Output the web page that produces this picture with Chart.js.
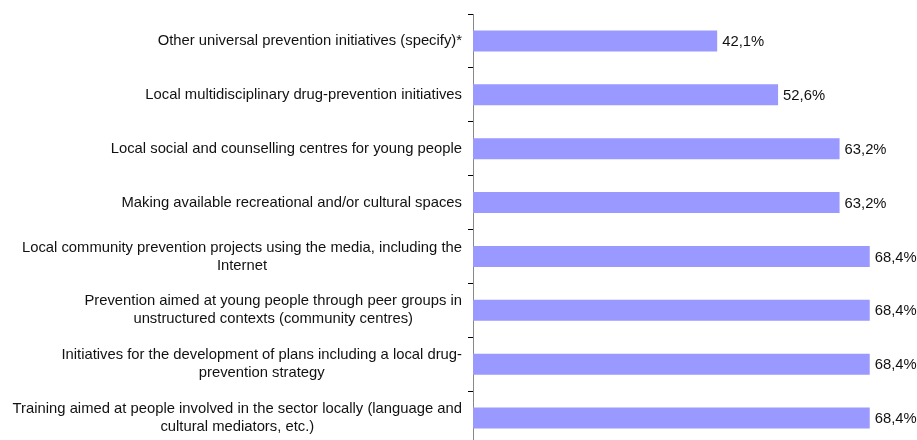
<!DOCTYPE html>
<html>
<head>
<meta charset="utf-8">
<script src="https://cdn.jsdelivr.net/npm/chart.js@4.4.1/dist/chart.umd.min.js"></script>
<style>
  html, body { margin: 0; padding: 0; background: #fff; width: 917px; height: 440px; overflow: hidden; }
  #wrap { width: 917px; height: 446px; }
</style>
</head>
<body>
<div id="wrap"><canvas id="c"></canvas></div>
<script>
// Initiative categories, each split into its display lines
const categories = [
  ["Other universal prevention initiatives (specify)*"],
  ["Local multidisciplinary drug-prevention initiatives"],
  ["Local social and counselling centres for young people"],
  ["Making available recreational and/or cultural spaces"],
  ["Local community prevention projects using the media, including the", "Internet"],
  ["Prevention aimed at young people through peer groups in", "unstructured contexts (community centres)"],
  ["Initiatives for the development of plans including a local drug-", "prevention strategy"],
  ["Training aimed at people involved in the sector locally (language and", "cultural mediators, etc.)"]
];
// Share of respondents (%)
const shares = [42.1, 52.6, 63.2, 63.2, 68.4, 68.4, 68.4, 68.4];

const FONT = '14.8px "Liberation Sans", Arial, sans-serif';
const fmt = v => v.toFixed(1).replace('.', ',') + '%';

// Draws the category labels (each block right-aligned, its lines centred) and the value labels
const labelPlugin = {
  id: 'labels',
  afterDraw(chart) {
    const ctx = chart.ctx;
    const y = chart.scales.y;
    const x = chart.scales.x;
    ctx.save();
    ctx.font = FONT;
    ctx.fillStyle = '#111';
    ctx.textBaseline = 'middle';
    const lh = 18;
    categories.forEach((lines, i) => {
      const cy = y.getPixelForValue(i);
      const widest = Math.max(...lines.map(l => ctx.measureText(l).width));
      const right = chart.chartArea.left - 11;
      const cx = right - widest / 2;
      ctx.textAlign = 'center';
      lines.forEach((l, k) => {
        ctx.fillText(l, cx, cy + (k - (lines.length - 1) / 2) * lh);
      });
    });
    ctx.textAlign = 'left';
    shares.forEach((v, i) => {
      ctx.fillText(fmt(v), x.getPixelForValue(v) + 5, y.getPixelForValue(i) + 1);
    });
    ctx.restore();
  }
};

new Chart(document.getElementById('c'), {
  type: 'bar',
  data: {
    labels: categories,
    datasets: [{
      data: shares,
      backgroundColor: '#9999ff',
      borderWidth: 0,
      categoryPercentage: 1,
      barPercentage: 0.39
    }]
  },
  options: {
    indexAxis: 'y',
    responsive: true,
    maintainAspectRatio: false,
    animation: false,
    layout: { padding: { top: 14, bottom: 1, right: 38, left: 0 } },
    plugins: { legend: { display: false }, tooltip: { enabled: false } },
    scales: {
      x: {
        display: false,
        min: 0,
        max: 70
      },
      y: {
        offset: true,
        afterFit(scale) { scale.width = 473; },
        border: { display: true, color: '#888', width: 1 },
        grid: { offset: true, drawOnChartArea: false, tickLength: 5, color: '#000' },
        ticks: { display: false }
      }
    }
  },
  plugins: [labelPlugin]
});
</script>
</body>
</html>
